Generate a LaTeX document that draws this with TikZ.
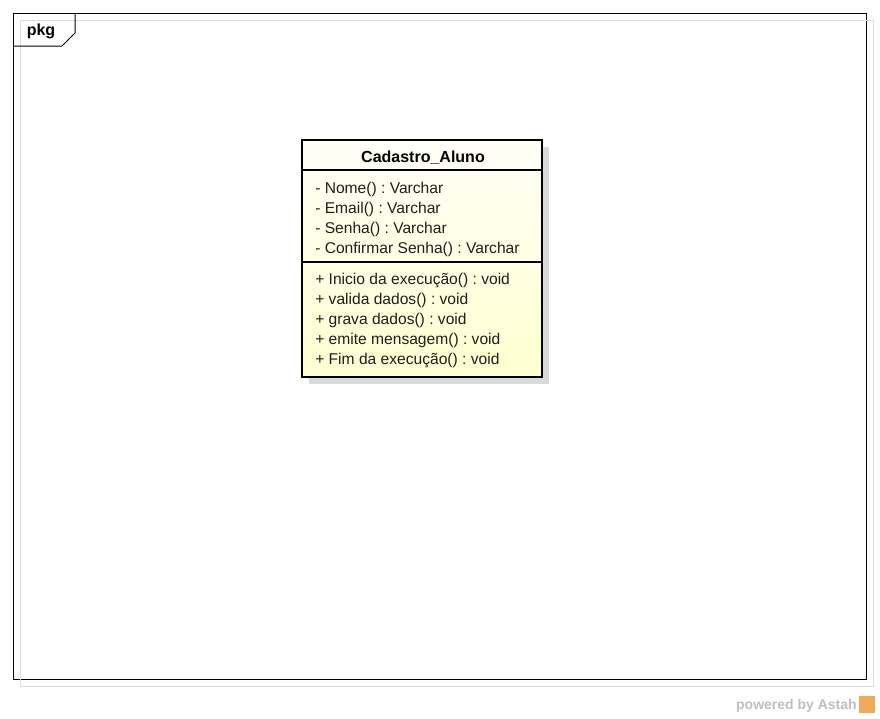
\documentclass[tikz,border=0pt]{standalone}
\usepackage{fontspec}
\setmainfont{Liberation Sans}
\usetikzlibrary{calc}
\frenchspacing
\definecolor{framegray}{RGB}{220,220,220}
\definecolor{shadowgray}{RGB}{218,218,218}
\definecolor{classtop}{RGB}{255,255,246}
\definecolor{classbottom}{RGB}{255,255,208}
\definecolor{astahgray}{RGB}{190,190,190}
\definecolor{astahorange}{RGB}{240,170,90}

\begin{document}
\begin{tikzpicture}[x=0.75pt,y=-0.75pt,
		member/.style={anchor=west, inner sep=0pt, font=\fontsize{11.7}{14}\selectfont, text=black!88},
		classname/.style={inner sep=0pt, font=\fontsize{12}{14}\selectfont\bfseries}]
			%%%%% START %%%%%
			
			\useasboundingbox (0, 0) rectangle (880, 718);
			
			% package frame
			\draw[line width=0.75pt] (13, 13) rectangle (866, 679);
			\draw[color=framegray, line width=0.6pt] (20, 20) rectangle (873, 686);
			\draw[line width=0.75pt] (13, 46) -- (62, 46) -- (75, 33) -- (75, 13);
			\node[inner sep=0pt, font=\fontsize{12}{14}\selectfont\bfseries] (pkg) at (41, 31) {pkg};
			
			% class
			\fill[color=shadowgray] (309, 147) rectangle (549, 384);
			\shade[top color=classtop, bottom color=classbottom] (302, 140) rectangle (542, 377);
			\draw[line width=1.9pt] (302, 140) rectangle (542, 377);
			\draw[line width=0.8pt] (302, 170) -- (542, 170);
			\draw[line width=0.8pt] (302, 262) -- (542, 262);
			
			\node[classname] (name) at (423, 158) {Cadastro\_Aluno};
			
			\node[member] (nome) at (315, 189) {- Nome() : Varchar};
			\node[member] (email) at (315, 209) {- Email() : Varchar};
			\node[member] (senha) at (315, 229) {- Senha() : Varchar};
			\node[member] (confirmar) at (315, 249) {- Confirmar Senha() : Varchar};
			
			\node[member] (inicio) at (315, 280) {+ Inicio da execução() : void};
			\node[member] (valida) at (315, 300) {+ valida dados() : void};
			\node[member] (grava) at (315, 320) {+ grava dados() : void};
			\node[member] (emite) at (315, 340) {+ emite mensagem() : void};
			\node[member] (fim) at (315, 360) {+ Fim da execução() : void};
			
			% footer
			\node[anchor=east, inner sep=0pt, text=astahgray, font=\fontsize{10.5}{12}\selectfont\bfseries] (powered) at (857, 706) {powered by Astah};
			\fill[color=astahorange] (859, 696) rectangle (875, 713);
			
			%%%%% END %%%%%
		\end{tikzpicture}
\end{document}
